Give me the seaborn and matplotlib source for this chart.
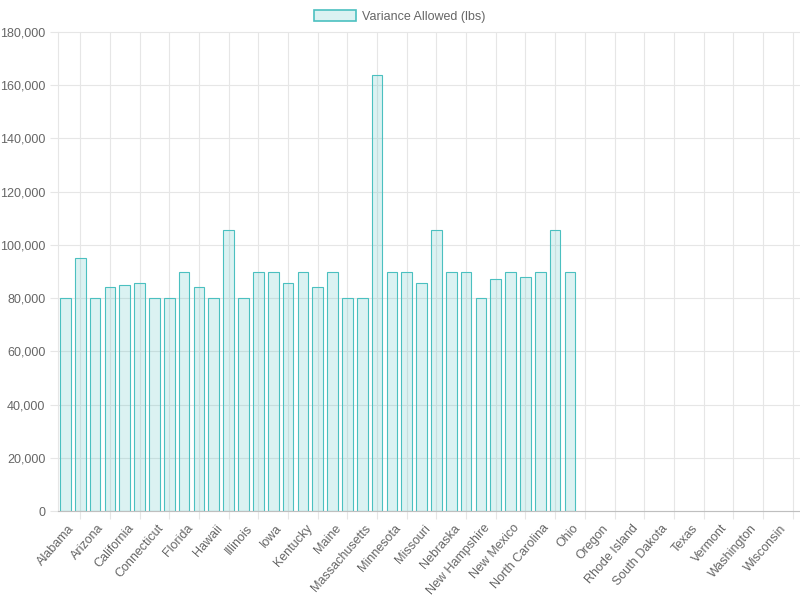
import matplotlib
matplotlib.use("Agg")
import matplotlib.pyplot as plt
import pandas as pd
import seaborn as sns
from matplotlib.patches import Patch
from matplotlib.ticker import FuncFormatter
from matplotlib.transforms import ScaledTranslation

STATES = [
    "Alabama", "Alaska", "Arizona", "Arkansas", "California", "Colorado",
    "Connecticut", "Delaware", "Florida", "Georgia", "Hawaii", "Idaho",
    "Illinois", "Indiana", "Iowa", "Kansas", "Kentucky", "Louisiana",
    "Maine", "Maryland", "Massachusetts", "Michigan", "Minnesota",
    "Mississippi", "Missouri", "Montana", "Nebraska", "Nevada",
    "New Hampshire", "New Jersey", "New Mexico", "New York",
    "North Carolina", "North Dakota", "Ohio", "Oklahoma", "Oregon",
    "Pennsylvania", "Rhode Island", "South Carolina", "South Dakota",
    "Tennessee", "Texas", "Utah", "Vermont", "Virginia", "Washington",
    "West Virginia", "Wisconsin", "Wyoming",
]
REPORTED_STATES = STATES[:35]
VARIANCE_LBS = [
    80000, 95000, 80000, 84000, 85000, 85500, 80000, 80000, 90000, 84000,
    80000, 105500, 80000, 90000, 90000, 85500, 90000, 84000, 90000, 80000,
    80000, 164000, 90000, 90000, 85500, 105500, 90000, 90000, 80000, 87000,
    90000, 88000, 90000, 105500, 90000,
]
SERIES_LABEL = "Variance Allowed (lbs)"
Y_TICKS = list(range(0, 180001, 20000))

FILL = (75 / 255, 192 / 255, 192 / 255, 0.2)
EDGE = (75 / 255, 192 / 255, 192 / 255, 1.0)
TEXT = "#666666"
GRID = "#e6e6e6"
ZERO = "#bfbfbf"

sns.set_theme(style="white")
plt.rcParams["font.family"] = ["Liberation Sans", "DejaVu Sans"]

frame = pd.DataFrame({"state": REPORTED_STATES, "variance": VARIANCE_LBS})

fig = plt.figure(figsize=(8, 6), dpi=100)
ax = fig.add_axes([58 / 800, 1 - 511 / 600, 742 / 800, 479 / 600])
sns.barplot(data=frame, x="state", y="variance", order=STATES, color=EDGE,
            saturation=1, width=0.72, errorbar=None, ax=ax)
for bar in ax.patches:
    bar.set_facecolor(FILL)
    bar.set_edgecolor(EDGE)
    bar.set_linewidth(0.8)

ax.set_xlim(-0.5, len(STATES) - 0.5)
ax.set_ylim(0, 180000)
ax.set_xlabel("")
ax.set_ylabel("")

# labels on every other state, grid lines between them
ax.set_xticks(range(0, len(STATES), 2))
ax.set_xticklabels(STATES[::2], rotation=49, ha="right", va="center",
                   rotation_mode="anchor", fontsize=9, color=TEXT)
ax.set_xticks(range(1, len(STATES), 2), minor=True)
ax.tick_params(axis="x", which="major", length=0, pad=11)
ax.tick_params(axis="x", which="minor", length=6, width=0.8, color=GRID, bottom=True)
ax.grid(True, axis="x", which="minor", color=GRID, linewidth=0.8, alpha=1)
for lbl in ax.get_xticklabels():
    lbl.set_transform(lbl.get_transform() + ScaledTranslation(7 / 100, 0, fig.dpi_scale_trans))

ax.set_yticks(Y_TICKS)
ax.yaxis.set_major_formatter(FuncFormatter(lambda v, _: f"{int(v):,}"))
ax.tick_params(axis="y", length=6, width=0.8, color=GRID, left=True, pad=3,
               labelsize=9, labelcolor=TEXT)
ax.grid(True, axis="y", which="major", color=GRID, linewidth=0.8, alpha=1)
for line in ax.get_ygridlines():
    line.set_clip_on(False)

for side in ["top", "right"]:
    ax.spines[side].set_visible(False)
ax.spines["left"].set_color(GRID)
ax.spines["left"].set_linewidth(0.8)
ax.spines["bottom"].set_color(ZERO)
ax.spines["bottom"].set_linewidth(0.8)
ax.set_axisbelow(True)

handle = Patch(facecolor=FILL, edgecolor=EDGE, linewidth=1.2)
fig.legend([handle], [SERIES_LABEL], loc="upper center",
           bbox_to_anchor=(0.5, 1 - 10 / 600), frameon=False,
           handlelength=3.33, handleheight=1.0, handletextpad=0.5,
           fontsize=9, labelcolor=TEXT, borderpad=0, borderaxespad=0)

fig.savefig("out.png", dpi=100)
